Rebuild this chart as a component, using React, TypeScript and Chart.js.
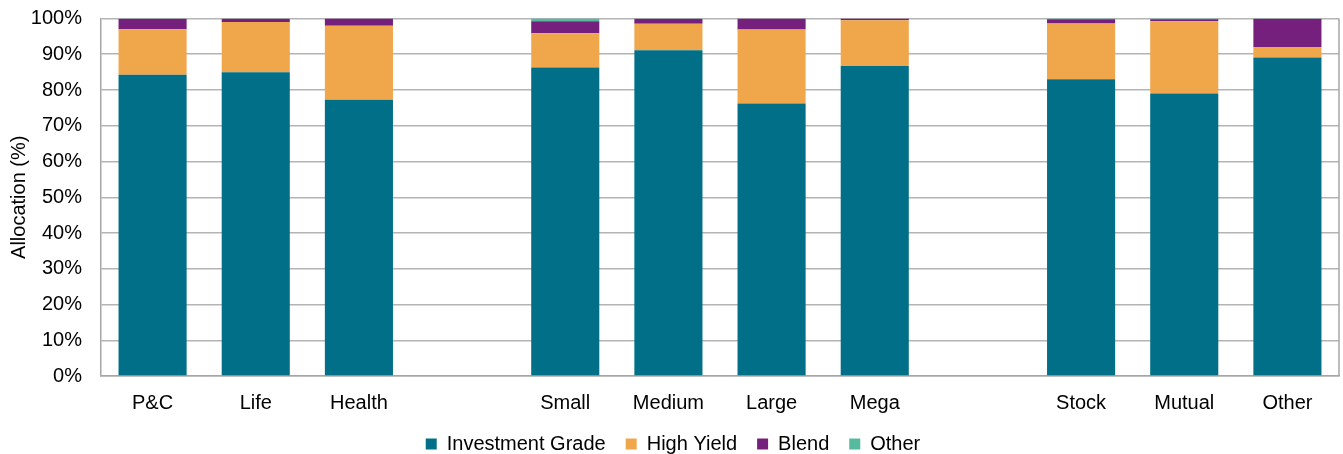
import React, { useEffect, useRef } from "react";
import { Chart, registerables } from "chart.js";

Chart.register(...registerables);

const categories = ["P&C", "Life", "Health", "", "Small", "Medium", "Large", "Mega", "", "Stock", "Mutual", "Other"];
const investmentGrade = [84.3, 85.0, 77.3, null, 86.3, 91.1, 76.2, 86.7, null, 83.0, 79.0, 89.1];
const highYield = [12.7, 14.0, 20.7, null, 9.6, 7.4, 20.7, 12.8, null, 15.6, 20.2, 2.9];
const blend = [2.9, 0.9, 2.0, null, 3.3, 1.4, 3.1, 0.5, null, 1.2, 0.6, 7.9];
const other = [0.1, 0.1, 0.0, null, 0.8, 0.1, 0.0, 0.0, null, 0.2, 0.2, 0.1];
const yTicks = [0, 10, 20, 30, 40, 50, 60, 70, 80, 90, 100];

const FONT = "'Liberation Sans', Arial, sans-serif";

const rightBorder = {
  id: "rightBorder",
  afterDatasetsDraw(chart: any) {
    const { ctx, chartArea } = chart;
    ctx.save();
    ctx.strokeStyle = "#A6A6A6";
    ctx.lineWidth = 1.5;
    ctx.beginPath();
    ctx.moveTo(chartArea.right, chartArea.top);
    ctx.lineTo(chartArea.right, chartArea.bottom);
    ctx.stroke();
    ctx.restore();
  },
};

export default function App() {
  const ref = useRef<HTMLCanvasElement | null>(null);
  useEffect(() => {
    if (!ref.current) return;
    const chart = new Chart(ref.current, {
      type: "bar",
      data: {
        labels: categories,
        datasets: [
          { label: "Investment Grade", data: investmentGrade, backgroundColor: "#006F87" },
          { label: "High Yield", data: highYield, backgroundColor: "#F0A64B" },
          { label: "Blend", data: blend, backgroundColor: "#76207D" },
          { label: "Other", data: other, backgroundColor: "#55BA9E" },
        ],
      },
      options: {
        animation: false,
        responsive: true,
        maintainAspectRatio: false,
        layout: { padding: { top: 18.5, right: 4, left: 7, bottom: 0 } },
        datasets: { bar: { categoryPercentage: 1, barPercentage: 0.66 } },
        plugins: {
          legend: {
            position: "bottom",
            labels: {
              font: { family: FONT, size: 20, lineHeight: 1 },
              color: "#000",
              boxWidth: 11,
              boxHeight: 11,
              padding: 20,
            },
          },
          tooltip: { enabled: false },
          title: { display: false },
        },
        scales: {
          x: {
            stacked: true,
            grid: { display: false, drawTicks: false },
            border: { color: "#A6A6A6", width: 1.5 },
            ticks: {
              font: { family: FONT, size: 20 },
              color: "#000",
              padding: 15,
              maxRotation: 0,
              autoSkip: false,
            },
            afterFit: (scale: any) => {
              scale.height = 38;
            },
          },
          y: {
            stacked: true,
            min: 0,
            max: 100,
            afterBuildTicks: (axis: any) => {
              axis.ticks = yTicks.map((v) => ({ value: v }));
            },
            afterFit: (scale: any) => {
              scale.width = 94;
              scale.paddingTop = 0;
              scale.paddingBottom = 0;
            },
            grid: { color: "#B4B4B4", lineWidth: 1.5, drawTicks: false },
            border: { color: "#A6A6A6", width: 1.5 },
            ticks: {
              font: { family: FONT, size: 20 },
              color: "#000",
              padding: 19,
              callback: (v: any) => v + "%",
            },
            title: {
              display: true,
              text: "Allocation (%)",
              font: { family: FONT, size: 20 },
              color: "#000",
              padding: { top: 0, bottom: 0 },
            },
          },
        },
      },
      plugins: [rightBorder],
    });
    return () => chart.destroy();
  }, []);
  return (
    <div style={{ position: "fixed", left: 0, top: 0, width: 1343, height: 464, background: "#fff" }}>
      <canvas ref={ref} />
    </div>
  );
}
